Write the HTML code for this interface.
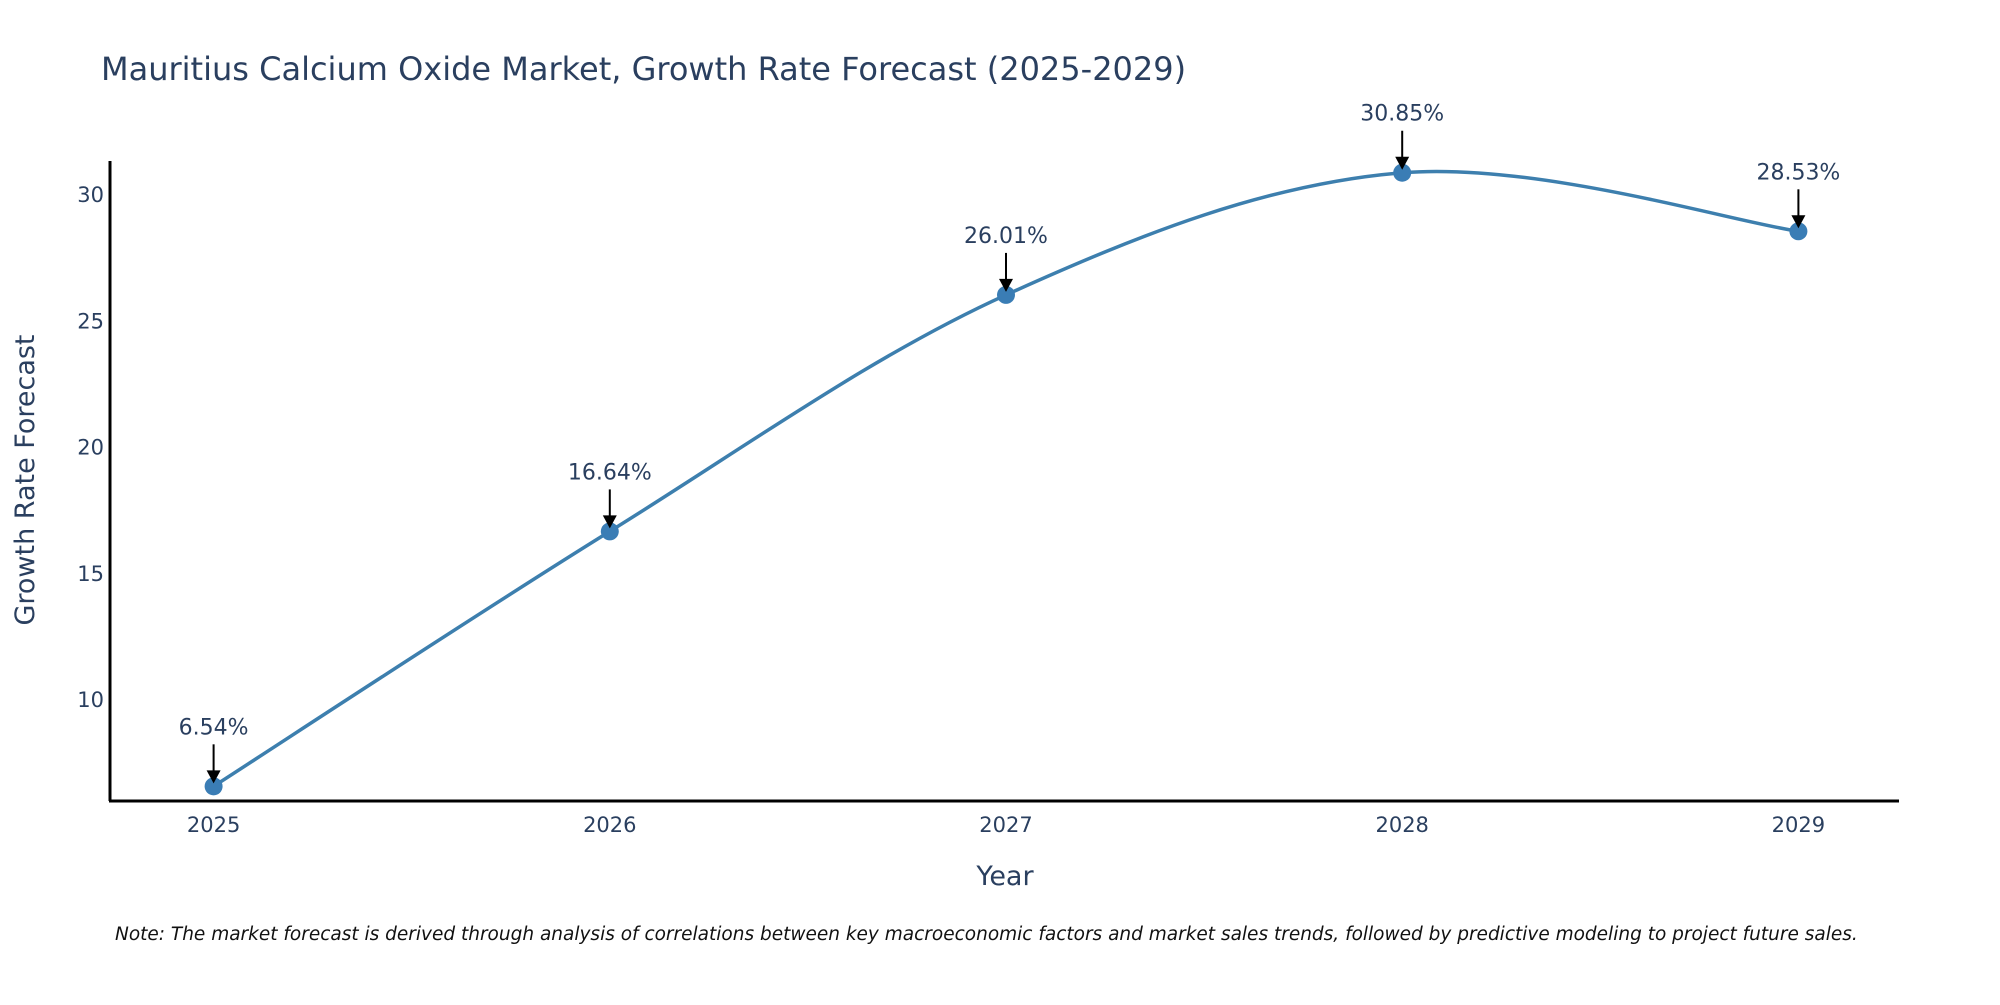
<!DOCTYPE html>
<html><head><meta charset="utf-8"><style>
body{margin:0;background:#fff;}
svg text{font-family:"DejaVu Sans","Liberation Sans",sans-serif;fill:#2a3f5f;}
</style></head><body>
<svg id="chart" width="2000" height="1000">
<text x="101" y="80" font-size="32">Mauritius Calcium Oxide Market, Growth Rate Forecast (2025-2029)</text>
<g id="yticks"></g><g id="xticks"></g>
<line x1="110" y1="161" x2="110" y2="801" stroke="#000" stroke-width="3"/>
<line x1="109" y1="801" x2="1899" y2="801" stroke="#000" stroke-width="3"/>
<text transform="translate(34,480) rotate(-90)" text-anchor="middle" font-size="27">Growth Rate Forecast</text>
<text x="1005" y="885" text-anchor="middle" font-size="27">Year</text>
<g id="series"></g>
<text x="115" y="940" font-size="18.5" font-style="italic" style="fill:#111">Note: The market forecast is derived through analysis of correlations between key macroeconomic factors and market sales trends, followed by predictive modeling to project future sales.</text>
</svg>
<script>
const years=["2025","2026","2027","2028","2029"];
const values=[6.54,16.64,26.01,30.85,28.53];
const yTicks=[10,15,20,25,30];
const NS="http://www.w3.org/2000/svg";
function xs(i){return 213.6+i*396.2;}
function ys(v){return 699-(v-10)*25.24;}
function mk(t,a,p){const e=document.createElementNS(NS,t);for(const k in a)e.setAttribute(k,a[k]);p.appendChild(e);return e;}
const yt=document.getElementById('yticks');
yTicks.forEach(v=>{const t=mk('text',{x:104,y:ys(v)+8,'text-anchor':'end','font-size':21},yt);


t.textContent=v;});
const xt=document.getElementById('xticks');
years.forEach((y,i)=>{const t=mk('text',{x:xs(i),y:832,'text-anchor':'middle','font-size':21},xt);


t.textContent=y;});
const g=document.getElementById('series');
const P=values.map((v,i)=>[xs(i),ys(v)]);
let d='M'+P[0][0]+','+P[0][1];const s=0.17;
for(let i=0;i<P.length-1;i++){const p0=P[Math.max(0,i-1)],p1=P[i],p2=P[i+1],p3=P[Math.min(P.length-1,i+2)];
const c1=[p1[0]+(p2[0]-p0[0])*s,p1[1]+(p2[1]-p0[1])*s],c2=[p2[0]-(p3[0]-p1[0])*s,p2[1]-(p3[1]-p1[1])*s];
d+=' C'+c1+' '+c2+' '+p2;}
const line=mk('path',{d:d,fill:'none',stroke:'#3d7fae','stroke-width':3.5},g);


P.forEach((p,i)=>{
const c=mk('circle',{cx:p[0],cy:p[1],r:9,fill:'#3a7db5'},g);


const a=mk('line',{x1:p[0],y1:p[1]-42,x2:p[0],y2:p[1]-14,stroke:'#000','stroke-width':2},g);


const h=mk('polygon',{points:(p[0]-7)+','+(p[1]-16)+' '+(p[0]+7)+','+(p[1]-16)+' '+p[0]+','+(p[1]-3),fill:'#000'},g);


const t=mk('text',{x:p[0],y:p[1]-52,'text-anchor':'middle','font-size':22},g);


t.textContent=values[i].toFixed(2)+'%';});
</script>
</body></html>
